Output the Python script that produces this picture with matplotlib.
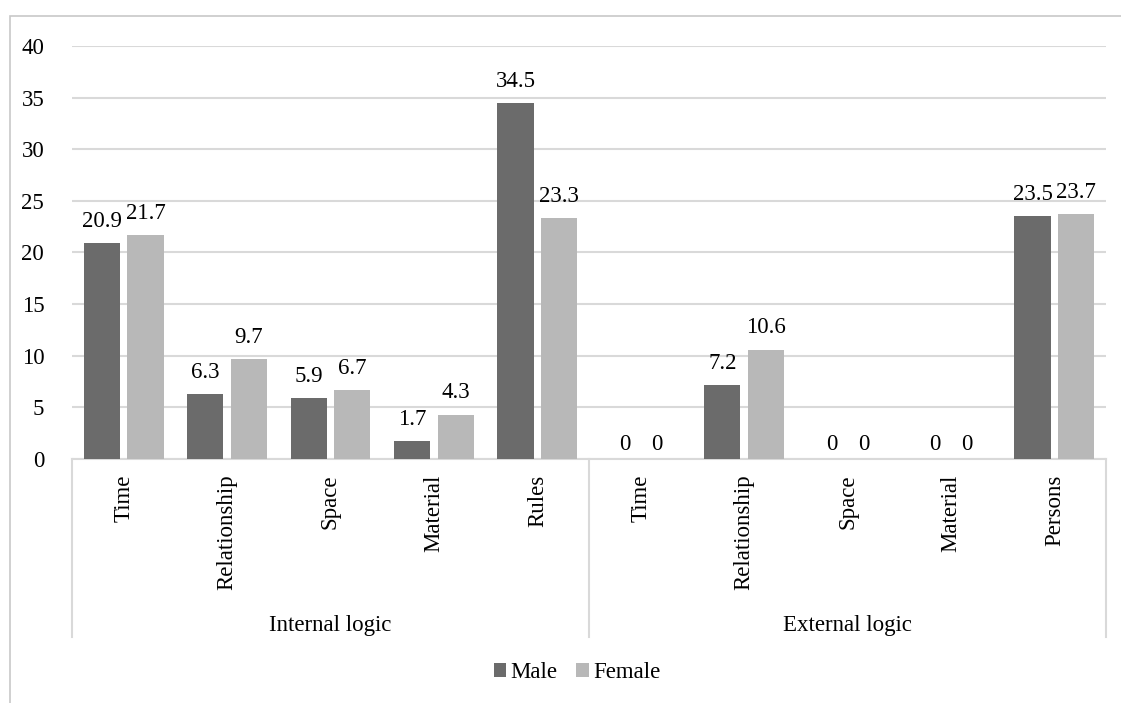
import numpy as np
import matplotlib
matplotlib.use("Agg")
import matplotlib.pyplot as plt
from matplotlib.patches import Rectangle

plt.rcParams['font.family'] = ['Liberation Serif', 'DejaVu Serif']

categories = ["Time", "Relationship", "Space", "Material", "Rules",
              "Time", "Relationship", "Space", "Material", "Persons"]
groups = ["Internal logic", "External logic"]
group_sizes = [5, 5]
male = [20.9, 6.3, 5.9, 1.7, 34.5, 0, 7.2, 0, 0, 23.5]
female = [21.7, 9.7, 6.7, 4.3, 23.3, 0, 10.6, 0, 0, 23.7]

W, H = 1121, 703
fig = plt.figure(figsize=(W / 100, H / 100), dpi=100)

# outer frame (cut off at right/bottom like the source screenshot)
fig.patches.append(Rectangle((10 / W, -0.1), 1.2, 1 - 16 / H + 0.1,
                             transform=fig.transFigure, fill=False,
                             edgecolor='#c8c8c8', linewidth=1.2))

ax = fig.add_axes([72 / W, 1 - 459 / H, (1106 - 72) / W, (459 - 46) / H])

x = np.arange(len(categories))
bw = 0.35
off = 0.21
b1 = ax.bar(x - off, male, bw, color='#6b6b6b', label='Male', zorder=3)
b2 = ax.bar(x + off, female, bw, color='#b8b8b8', label='Female', zorder=3)

fs = 16.5
# value labels; zero values get a tighter label placed just above the axis
ax.bar_label(b1, labels=[f"{v:g}" if v else "" for v in male], padding=8, fontsize=fs)
ax.bar_label(b2, labels=[f"{v:g}" if v else "" for v in female], padding=8, fontsize=fs)
for i, (m, f) in enumerate(zip(male, female)):
    if m == 0:
        ax.annotate("0", (i - 0.155, 0), xytext=(0, 3), textcoords='offset points',
                    ha='center', va='bottom', fontsize=fs)
    if f == 0:
        ax.annotate("0", (i + 0.155, 0), xytext=(0, 3), textcoords='offset points',
                    ha='center', va='bottom', fontsize=fs)

ax.set_xlim(-0.5, len(categories) - 0.5)
ax.set_ylim(0, 40)
ax.set_yticks(range(0, 41, 5))
ax.yaxis.grid(True, color='#d9d9d9', linewidth=1.5, zorder=0)
ax.set_axisbelow(True)
for s in ['top', 'right', 'left']:
    ax.spines[s].set_visible(False)
ax.spines['bottom'].set_color('#d9d9d9')
ax.spines['bottom'].set_linewidth(1.5)

ax.set_xticks(x)
ax.set_xticklabels(categories, rotation=90, va='top', ha='center')
ax.tick_params(axis='x', length=0, pad=11, labelsize=fs)
ax.tick_params(axis='y', length=0, pad=20, labelsize=fs)

# group separators and group labels
sep_bottom = (459 - 637) / (459 - 46)
label_y = (459 - 626) / (459 - 46)
start = 0
bounds = [-0.5]
for g, n in zip(groups, group_sizes):
    mid = start + (n - 1) / 2
    ax.text(mid, label_y, g, transform=ax.get_xaxis_transform(),
            ha='center', va='center', fontsize=fs)
    start += n
    bounds.append(start - 0.5)
for b in bounds:
    ax.plot([b, b], [0, sep_bottom], transform=ax.get_xaxis_transform(),
            color='#d9d9d9', linewidth=1.5, clip_on=False)

fig.legend(handles=[b1, b2], labels=['Male', 'Female'], loc='center',
           bbox_to_anchor=(577 / W, 1 - 673 / H), ncol=2, frameon=False,
           fontsize=fs, handlelength=0.55, handleheight=0.55,
           handletextpad=0.2, columnspacing=0.8)

fig.savefig("out.png", dpi=100, facecolor='white')
